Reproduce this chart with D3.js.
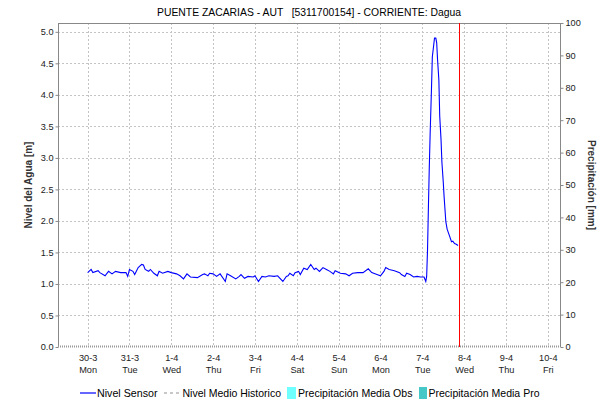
<!DOCTYPE html>
<html><head><meta charset="utf-8">
<script src="https://cdn.jsdelivr.net/npm/d3@7"></script>
<style>
html,body{margin:0;padding:0;background:#fff;}
svg{display:block;font-family:"Liberation Sans",Arial,sans-serif;}
</style></head>
<body><svg id="c" width="598" height="401"></svg>
<script>
const title = "PUENTE ZACARIAS - AUT   [5311700154] - CORRIENTE: Dagua";
const xDomain = ["2020-03-29 07:00", "2020-04-10 07:00"];
const dayTicks = ["2020-03-30","2020-03-31","2020-04-01","2020-04-02","2020-04-03","2020-04-04","2020-04-05","2020-04-06","2020-04-07","2020-04-08","2020-04-09","2020-04-10"];
const levelTicks = [0,0.5,1,1.5,2,2.5,3,3.5,4,4.5,5];
const precipTicks = [0,10,20,30,40,50,60,70,80,90,100];
const legendLabels = ["Nivel Sensor","Nivel Medio Historico","Precipitación Media Obs","Precipitación Media Pro"];
const nowMark = "2020-04-07 21:00";
const times = [
"2020-03-30 00:00","2020-03-30 02:00","2020-03-30 03:00","2020-03-30 06:00","2020-03-30 07:00","2020-03-30 10:00","2020-03-30 12:00","2020-03-30 14:00","2020-03-30 16:00","2020-03-30 19:00","2020-03-30 22:00","2020-03-30 23:00",
"2020-03-31 00:00","2020-03-31 02:00","2020-03-31 03:00","2020-03-31 05:00","2020-03-31 07:00","2020-03-31 08:00","2020-03-31 09:00","2020-03-31 11:00","2020-03-31 12:00","2020-03-31 14:00","2020-03-31 16:00","2020-03-31 17:00","2020-03-31 19:00","2020-03-31 22:00",
"2020-04-01 00:00","2020-04-01 03:00","2020-04-01 05:00","2020-04-01 07:00","2020-04-01 09:00","2020-04-01 11:00","2020-04-01 15:00","2020-04-01 18:00","2020-04-01 19:00","2020-04-01 21:00","2020-04-01 22:00",
"2020-04-02 00:00","2020-04-02 02:00","2020-04-02 04:00","2020-04-02 07:00","2020-04-02 08:00","2020-04-02 10:00","2020-04-02 13:00","2020-04-02 15:00","2020-04-02 16:00","2020-04-02 18:00","2020-04-02 20:00","2020-04-02 23:00",
"2020-04-03 00:00","2020-04-03 02:00","2020-04-03 04:00","2020-04-03 06:00","2020-04-03 08:00","2020-04-03 11:00","2020-04-03 13:00","2020-04-03 16:00","2020-04-03 18:00","2020-04-03 19:00","2020-04-03 20:00","2020-04-03 22:00","2020-04-03 23:00",
"2020-04-04 01:00","2020-04-04 02:00","2020-04-04 04:00","2020-04-04 06:00","2020-04-04 08:00","2020-04-04 10:00","2020-04-04 11:00","2020-04-04 13:00","2020-04-04 15:00","2020-04-04 17:00","2020-04-04 19:00","2020-04-04 21:00","2020-04-04 22:00",
"2020-04-05 01:00","2020-04-05 04:00","2020-04-05 06:00","2020-04-05 08:00","2020-04-05 11:00","2020-04-05 14:00","2020-04-05 17:00","2020-04-05 19:00","2020-04-05 22:00",
"2020-04-06 00:00","2020-04-06 02:00","2020-04-06 03:00","2020-04-06 05:00","2020-04-06 08:00","2020-04-06 11:00","2020-04-06 12:00","2020-04-06 14:00","2020-04-06 15:00","2020-04-06 17:00","2020-04-06 19:00","2020-04-06 21:00","2020-04-06 23:00",
"2020-04-07 01:00","2020-04-07 02:00","2020-04-07 02:30","2020-04-07 03:00","2020-04-07 03:30","2020-04-07 04:00","2020-04-07 04:30","2020-04-07 05:15","2020-04-07 05:45","2020-04-07 06:30","2020-04-07 07:00","2020-04-07 07:45","2020-04-07 08:15","2020-04-07 08:45","2020-04-07 09:30","2020-04-07 10:00","2020-04-07 10:45","2020-04-07 11:15","2020-04-07 12:00","2020-04-07 12:30","2020-04-07 13:00","2020-04-07 13:30","2020-04-07 14:15","2020-04-07 15:00","2020-04-07 15:45","2020-04-07 16:45","2020-04-07 17:30","2020-04-07 18:30","2020-04-07 19:30","2020-04-07 20:30"
];
const nivelSensor = [
1.18,1.23,1.18,1.21,1.18,1.13,1.20,1.16,1.20,1.18,1.18,1.12,
1.23,1.20,1.15,1.26,1.31,1.30,1.23,1.20,1.23,1.17,1.13,1.20,1.17,1.20,
1.18,1.16,1.13,1.08,1.16,1.11,1.10,1.15,1.16,1.13,1.17,
1.16,1.12,1.16,1.04,1.16,1.13,1.08,1.12,1.15,1.09,1.12,1.11,
1.13,1.04,1.12,1.11,1.13,1.12,1.13,1.04,1.12,1.13,1.17,1.13,1.18,
1.20,1.15,1.25,1.23,1.31,1.23,1.25,1.20,1.26,1.23,1.20,1.16,1.21,
1.17,1.16,1.13,1.17,1.18,1.18,1.24,1.18,1.15,
1.13,1.20,1.26,1.23,1.21,1.18,1.15,1.12,1.17,1.15,1.11,1.12,1.11,
1.11,1.04,1.12,1.54,2.21,2.84,3.38,4.08,4.60,4.78,4.90,4.90,4.83,4.56,4.24,3.66,3.29,2.93,2.63,2.39,2.19,1.99,1.87,1.81,1.75,1.67,1.68,1.64,1.63,1.61
];
const nivelMedioHistorico = [0, 0];

const parse = d3.utcParse("%Y-%m-%d %H:%M");
const parseDay = d3.utcParse("%Y-%m-%d");
const m = {l:58, r:560, t:23, b:347};
const svg = d3.select("#c");

const x = d3.scaleUtc().domain(xDomain.map(parse)).range([m.l, m.r]);
const y = d3.scaleLinear().domain([0, 5.14]).range([m.b, m.t]);
const y2 = d3.scaleLinear().domain([0, 100]).range([m.b, m.t]);

const gridC = "#c4c4c4";
const ticksX = dayTicks.map(parseDay);
svg.append("g").selectAll("line").data(ticksX).join("line")
  .attr("x1", d => Math.round(x(d)) + 0.5).attr("x2", d => Math.round(x(d)) + 0.5)
  .attr("y1", m.t).attr("y2", m.b)
  .attr("stroke", gridC).attr("stroke-dasharray", "2,2");
svg.append("g").selectAll("line").data(levelTicks.slice(1)).join("line")
  .attr("x1", m.l).attr("x2", m.r)
  .attr("y1", d => Math.round(y(d)) + 0.5).attr("y2", d => Math.round(y(d)) + 0.5)
  .attr("stroke", gridC).attr("stroke-dasharray", "2,2");

svg.append("line").attr("x1", m.l).attr("x2", m.r).attr("y1", m.t + 0.5).attr("y2", m.t + 0.5).attr("stroke", "#888");

const tickFont = 9.2;
const gL = svg.append("g").attr("transform", `translate(${m.l + 0.5},0)`)
  .call(d3.axisLeft(y).tickValues(levelTicks).tickFormat(d3.format(".1f")).tickSize(3).tickPadding(2));
gL.select(".domain").attr("stroke", "#888").attr("d", `M0,${m.t}V${m.b}`);
gL.selectAll(".tick line").attr("stroke", "#888");
gL.selectAll("text").attr("font-size", tickFont).attr("fill", "#222").attr("font-family", "Liberation Sans, Arial, sans-serif");

const gR = svg.append("g").attr("transform", `translate(${m.r + 0.5},0)`)
  .call(d3.axisRight(y2).tickValues(precipTicks).tickSize(3).tickPadding(2));
gR.select(".domain").attr("stroke", "#888").attr("d", `M0,${m.t}V${m.b}`);
gR.selectAll(".tick line").attr("stroke", "#888");
gR.selectAll("text").attr("font-size", tickFont).attr("fill", "#222").attr("font-family", "Liberation Sans, Arial, sans-serif");

const gB = svg.append("g").attr("transform", `translate(0,${m.b})`)
  .call(d3.axisBottom(x).tickValues(ticksX).tickSize(0).tickFormat(""));
gB.select(".domain").remove();
const fmtD = d3.utcFormat("%-d-%-m"), fmtW = d3.utcFormat("%a");
gB.selectAll(".tick").each(function(d){
  const t = d3.select(this);
  t.append("text").attr("y", 14).attr("text-anchor","middle").attr("font-size",tickFont).attr("fill","#222").text(fmtD(d));
  t.append("text").attr("y", 25.5).attr("text-anchor","middle").attr("font-size",tickFont).attr("fill","#222").text(fmtW(d));
});

svg.append("line").attr("x1", m.l).attr("x2", m.r)
  .attr("y1", y(d3.max(nivelMedioHistorico)) - 0.5).attr("y2", y(d3.max(nivelMedioHistorico)) - 0.5)
  .attr("stroke", "#999").attr("stroke-width", 2).attr("stroke-dasharray", "1,1");

const data = times.map((t, i) => ({t: parse(t), v: nivelSensor[i]}));
svg.append("path").datum(data)
  .attr("fill", "none").attr("stroke", "#0000ff").attr("stroke-width", 1.1)
  .attr("d", d3.line().x(d => x(d.t)).y(d => y(d.v)));

svg.append("line").attr("x1", Math.round(x(parse(nowMark))) + 0.5).attr("x2", Math.round(x(parse(nowMark))) + 0.5)
  .attr("y1", m.t).attr("y2", m.b).attr("stroke", "#ff0000");

svg.append("text").attr("x", (m.l + m.r) / 2).attr("y", 15.5).attr("text-anchor", "middle")
  .attr("font-size", 11.2).attr("fill", "#000").attr("xml:space","preserve").style("white-space","pre")
  .attr("textLength", 304).attr("lengthAdjust", "spacingAndGlyphs").text(title);

svg.append("text").attr("transform", `translate(32,${(m.t + m.b) / 2}) rotate(-90)`)
  .attr("text-anchor", "middle").attr("font-size", 10).attr("font-weight", "bold").attr("fill", "#333").text("Nivel del Agua [m]");
svg.append("text").attr("transform", `translate(588,${(m.t + m.b) / 2}) rotate(90)`)
  .attr("text-anchor", "middle").attr("font-size", 10).attr("font-weight", "bold").attr("fill", "#333").text("Precipitación [mm]");

const lg = svg.append("g").attr("font-size", 10.8).attr("fill", "#000");
const ly = 393;
lg.append("line").attr("x1", 80).attr("x2", 96).attr("y1", ly).attr("y2", ly).attr("stroke", "#0000ff").attr("stroke-width", 1.2);
lg.append("text").attr("x", 97).attr("y", ly + 4).attr("textLength", 60.5).attr("lengthAdjust","spacingAndGlyphs").text(legendLabels[0]);
lg.append("line").attr("x1", 164).attr("x2", 180).attr("y1", ly).attr("y2", ly).attr("stroke", "#c8c8c8").attr("stroke-width", 2).attr("stroke-dasharray", "3,3");
lg.append("text").attr("x", 182.5).attr("y", ly + 4).attr("textLength", 98.5).attr("lengthAdjust","spacingAndGlyphs").text(legendLabels[1]);
lg.append("rect").attr("x", 287).attr("y", ly - 6).attr("width", 9).attr("height", 12).attr("fill", "#70ffff");
lg.append("text").attr("x", 298).attr("y", ly + 4).attr("textLength", 114.5).attr("lengthAdjust","spacingAndGlyphs").text(legendLabels[2]);
lg.append("rect").attr("x", 419).attr("y", ly - 6).attr("width", 8).attr("height", 12).attr("fill", "#46c8c8");
lg.append("text").attr("x", 428.5).attr("y", ly + 4).attr("textLength", 111).attr("lengthAdjust","spacingAndGlyphs").text(legendLabels[3]);
</script></body></html>
